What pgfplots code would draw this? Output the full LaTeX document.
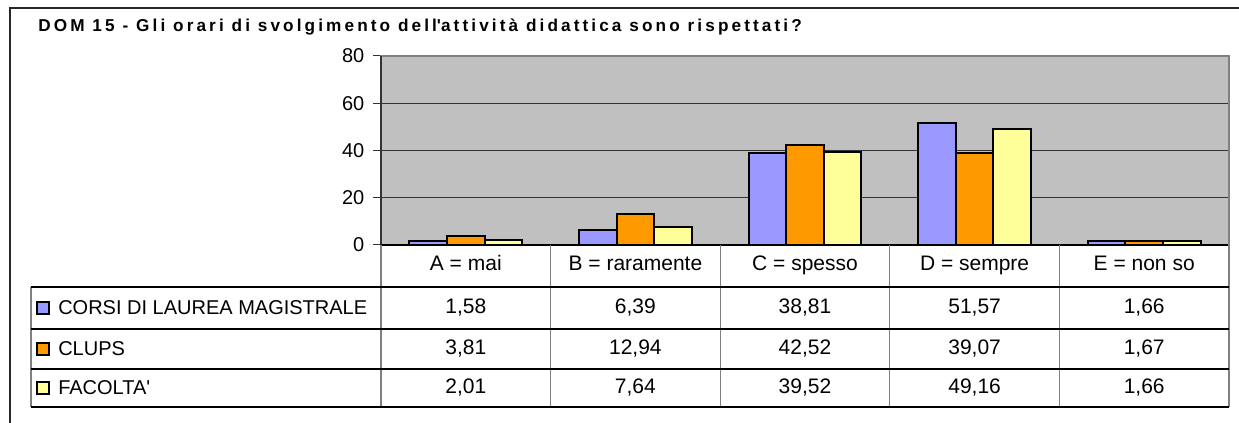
\documentclass[border=0pt]{standalone}
\usepackage{fontspec}
\setmainfont{Liberation Sans}
\usepackage{pgfplots}
\pgfplotsset{compat=1.18}
\usepackage{pgfplotstable}
\definecolor{cA}{HTML}{9999FF}
\definecolor{cB}{HTML}{FF9900}
\definecolor{cC}{HTML}{FFFF99}
\definecolor{plotbg}{HTML}{C0C0C0}
\definecolor{frm}{HTML}{808080}

\pgfplotstableread{
x cdl clups fac
1 1.58 3.81 2.01
2 6.39 12.94 7.64
3 38.81 42.52 39.52
4 51.57 39.07 49.16
5 1.66 1.67 1.66
}\data

\begin{document}
\begin{tikzpicture}[x=0.75pt,y=0.75pt]
\begin{axis}[
 at={(285.75pt,133.5pt)}, anchor=south west,
 scale only axis, width=636pt, height=141.75pt,
 xmin=0.5,xmax=5.5,ymin=0,ymax=80,
 axis background/.style={fill=plotbg},
 ytick={0,20,40,60,80}, xtick=\empty,
 ymajorgrids, grid style={black!80,line width=0.75pt},
 major tick length=6pt, tick align=outside, ytick pos=left,
 tick style={black!80,line width=0.75pt},
 axis line style={frm,line width=1pt},
 yticklabel style={font=\fontsize{15}{18}\selectfont, xshift=-3pt},
 /pgf/number format/assume math mode=true,
 ybar, bar width=0.222,
 clip=false,
]
\addplot[fill=cA, draw=black, line width=1.5pt, bar shift=-0.222] table[x=x,y=cdl]{\data};
\addplot[fill=cB, draw=black, line width=1.5pt, bar shift=0] table[x=x,y=clups]{\data};
\addplot[fill=cC, draw=black, line width=1.5pt, bar shift=0.222] table[x=x,y=fac]{\data};
\end{axis}
% axis lines
\draw[black!80, line width=1pt] (381,178)--(381,367);
\draw[black, line width=1pt] (381,178)--(1229,178);
% table
\draw[frm, line width=1pt] (381,178)--(381,16);
\foreach \xx in {550.6,720.2,889.8,1059.4} \draw[frm, line width=1pt] (\xx,178)--(\xx,16);
\draw[frm, line width=1pt] (1229,367)--(1229,16);
\draw[frm, line width=1pt] (31,136)--(31,16);
\foreach \yy in {136,94,54,16} \draw[black, line width=1pt] (31,\yy)--(1229,\yy);
% categories
\begin{scope}[every node/.style={font=\fontsize{15.75}{18}\selectfont, inner sep=0pt}]
\node[anchor=base] at (465.8,152) {A = mai};
\node[anchor=base] at (635.4,152) {B = raramente};
\node[anchor=base] at (805,152) {C = spesso};
\node[anchor=base] at (974.6,152) {D = sempre};
\node[anchor=base] at (1144.2,152) {E = non so};
% row labels
\node[anchor=west, font=\fontsize{15}{18}\selectfont] at (58,115) {CORSI DI LAUREA MAGISTRALE};
\node[anchor=west, font=\fontsize{15}{18}\selectfont] at (58,74) {CLUPS};
\node[anchor=west, font=\fontsize{15}{18}\selectfont] at (58,35) {FACOLTA\textquotesingle};
\node at (465.8,115) {1,58};
\node at (465.8,74) {3,81};
\node at (465.8,35) {2,01};
\node at (635.4,115) {6,39};
\node at (635.4,74) {12,94};
\node at (635.4,35) {7,64};
\node at (805,115) {38,81};
\node at (805,74) {42,52};
\node at (805,35) {39,52};
\node at (974.6,115) {51,57};
\node at (974.6,74) {39,07};
\node at (974.6,35) {49,16};
\node at (1144.2,115) {1,66};
\node at (1144.2,74) {1,67};
\node at (1144.2,35) {1,66};
\end{scope}
\draw[black, line width=0.9pt, fill=cA] (37,109) rectangle (49,121);
\draw[black, line width=0.9pt, fill=cB] (37,68) rectangle (49,80);
\draw[black, line width=0.9pt, fill=cC] (37,29) rectangle (49,41);
% title
\node[anchor=base west, inner sep=0pt, font=\bfseries\fontsize{12.9}{15}\selectfont\addfontfeature{LetterSpace=18}] at (38,391) {DOM 15 - Gli orari di svolgimento dell\textquotesingle attività didattica sono rispettati?};
% frame
\draw[black!85, line width=1.5pt] (10,0)--(10,415)--(1239,415);
\pgfresetboundingbox
\useasboundingbox (0,0) rectangle (1239,423);
\end{tikzpicture}
\end{document}
